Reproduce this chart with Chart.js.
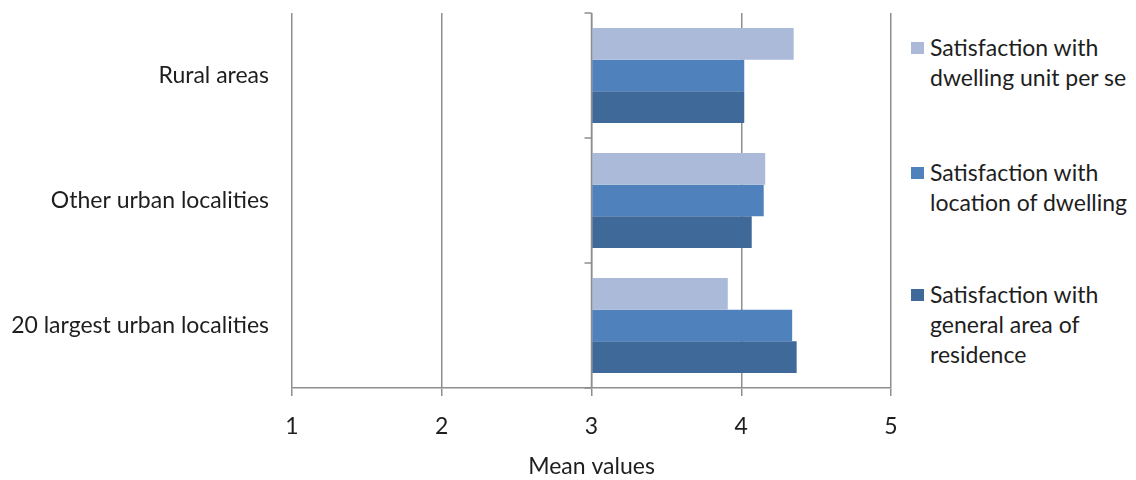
<!DOCTYPE html>
<html>
<head>
  <title>Satisfaction mean values</title>
  <meta charset="UTF-8" />
  <script src="https://cdn.jsdelivr.net/npm/chart.js"></script>
  <style>
    body { margin: 0; background: #fff; font-family: Lato, "Open Sans", sans-serif; color: #1e1e1e; }
    .wrap { position: relative; width: 1136px; height: 480px; }
    .chart-box { position: absolute; left: 0; top: 0; width: 905px; height: 480px; }
    .legend { position: absolute; left: 908px; top: 0; width: 228px; }
    .legend .item { position: absolute; left: 0; font-size: 23px; line-height: 30px; padding-left: 22px; white-space: nowrap; }
    .legend .swatch { position: absolute; left: 3px; top: 10px; width: 13px; height: 12px; }
  </style>
</head>
<body>
  <div class="wrap">
    <div class="chart-box"><canvas id="chart"></canvas></div>
    <div class="legend" id="legend"></div>
  </div>

  <script>
    const categories = ['Rural areas', 'Other urban localities', '20 largest urban localities'];
    const seriesNames = [
      ['Satisfaction with', 'dwelling unit per se'],
      ['Satisfaction with', 'location of dwelling'],
      ['Satisfaction with', 'general area of', 'residence']
    ];
    const dwellingUnit = [4.35, 4.16, 3.91];
    const locationOfDwelling = [4.02, 4.15, 4.34];
    const generalArea = [4.02, 4.07, 4.37];
    const xTicks = [1, 2, 3, 4, 5];

    const colors = ['#aabad8', '#4f81bd', '#3f6999'];
    const gridColor = '#8e8e8e';
    const textColor = '#1e1e1e';

    // tick marks on the vertical axis that sits at x = 3
    const midAxis = {
      id: 'midAxis',
      afterDatasetsDraw(chart) {
        const { ctx, scales: { x, y } } = chart;
        const px = x.getPixelForValue(3);
        const half = (y.getPixelForValue(1) - y.getPixelForValue(0)) / 2;
        ctx.save();
        ctx.strokeStyle = gridColor;
        ctx.lineWidth = 1.5;
        ctx.beginPath();
        ctx.moveTo(px, chart.chartArea.top);
        ctx.lineTo(px, chart.chartArea.bottom);
        for (let i = 0; i <= categories.length; i++) {
          const py = y.getPixelForValue(i) - half;
          ctx.moveTo(px - 7, py);
          ctx.lineTo(px, py);
        }
        ctx.stroke();
        ctx.restore();
      }
    };

    const datasets = [dwellingUnit, locationOfDwelling, generalArea].map((d, i) => ({
      label: seriesNames[i].join(' '),
      data: d,
      base: 3,
      backgroundColor: colors[i],
      borderWidth: 0,
      categoryPercentage: 0.76,
      barPercentage: 1
    }));

    new Chart(document.getElementById('chart'), {
      type: 'bar',
      data: { labels: categories, datasets },
      options: {
        indexAxis: 'y',
        responsive: true,
        maintainAspectRatio: false,
        animation: false,
        layout: { padding: { top: 13, right: 14, bottom: 0, left: 0 } },
        plugins: { legend: { display: false }, tooltip: { enabled: false } },
        scales: {
          x: {
            min: 1,
            max: 5,
            afterBuildTicks(scale) { scale.ticks = xTicks.map(v => ({ value: v })); },
            afterFit(scale) {
              scale.height = 92;
              scale.paddingLeft = 0;
              scale.paddingRight = 0;
            },
            grid: { color: gridColor, lineWidth: 1.5, tickLength: 8 },
            border: { color: gridColor, width: 1.5 },
            ticks: { color: textColor, font: { family: 'Lato', size: 23 }, padding: 17 },
            title: {
              display: true,
              text: 'Mean values',
              color: textColor,
              font: { family: 'Lato', size: 23 },
              padding: { top: 0, bottom: 0 }
            }
          },
          y: {
            afterFit(scale) {
              scale.width = 292;
              scale.paddingTop = 0;
              scale.paddingBottom = 0;
            },
            grid: { display: false, drawTicks: false },
            border: { display: false },
            ticks: { color: textColor, font: { family: 'Lato', size: 23 }, padding: 23 }
          }
        }
      },
      plugins: [midAxis]
    });

    // legend with wrapped labels
    const legendTops = [32, 157, 279];
    const legend = document.getElementById('legend');
    seriesNames.forEach((lines, i) => {
      const item = document.createElement('div');
      item.className = 'item';
      item.style.top = legendTops[i] + 'px';
      item.innerHTML = '<span class="swatch" style="background:' + colors[i] + '"></span>' + lines.join('<br>');
      legend.appendChild(item);
    });
  </script>
</body>
</html>
